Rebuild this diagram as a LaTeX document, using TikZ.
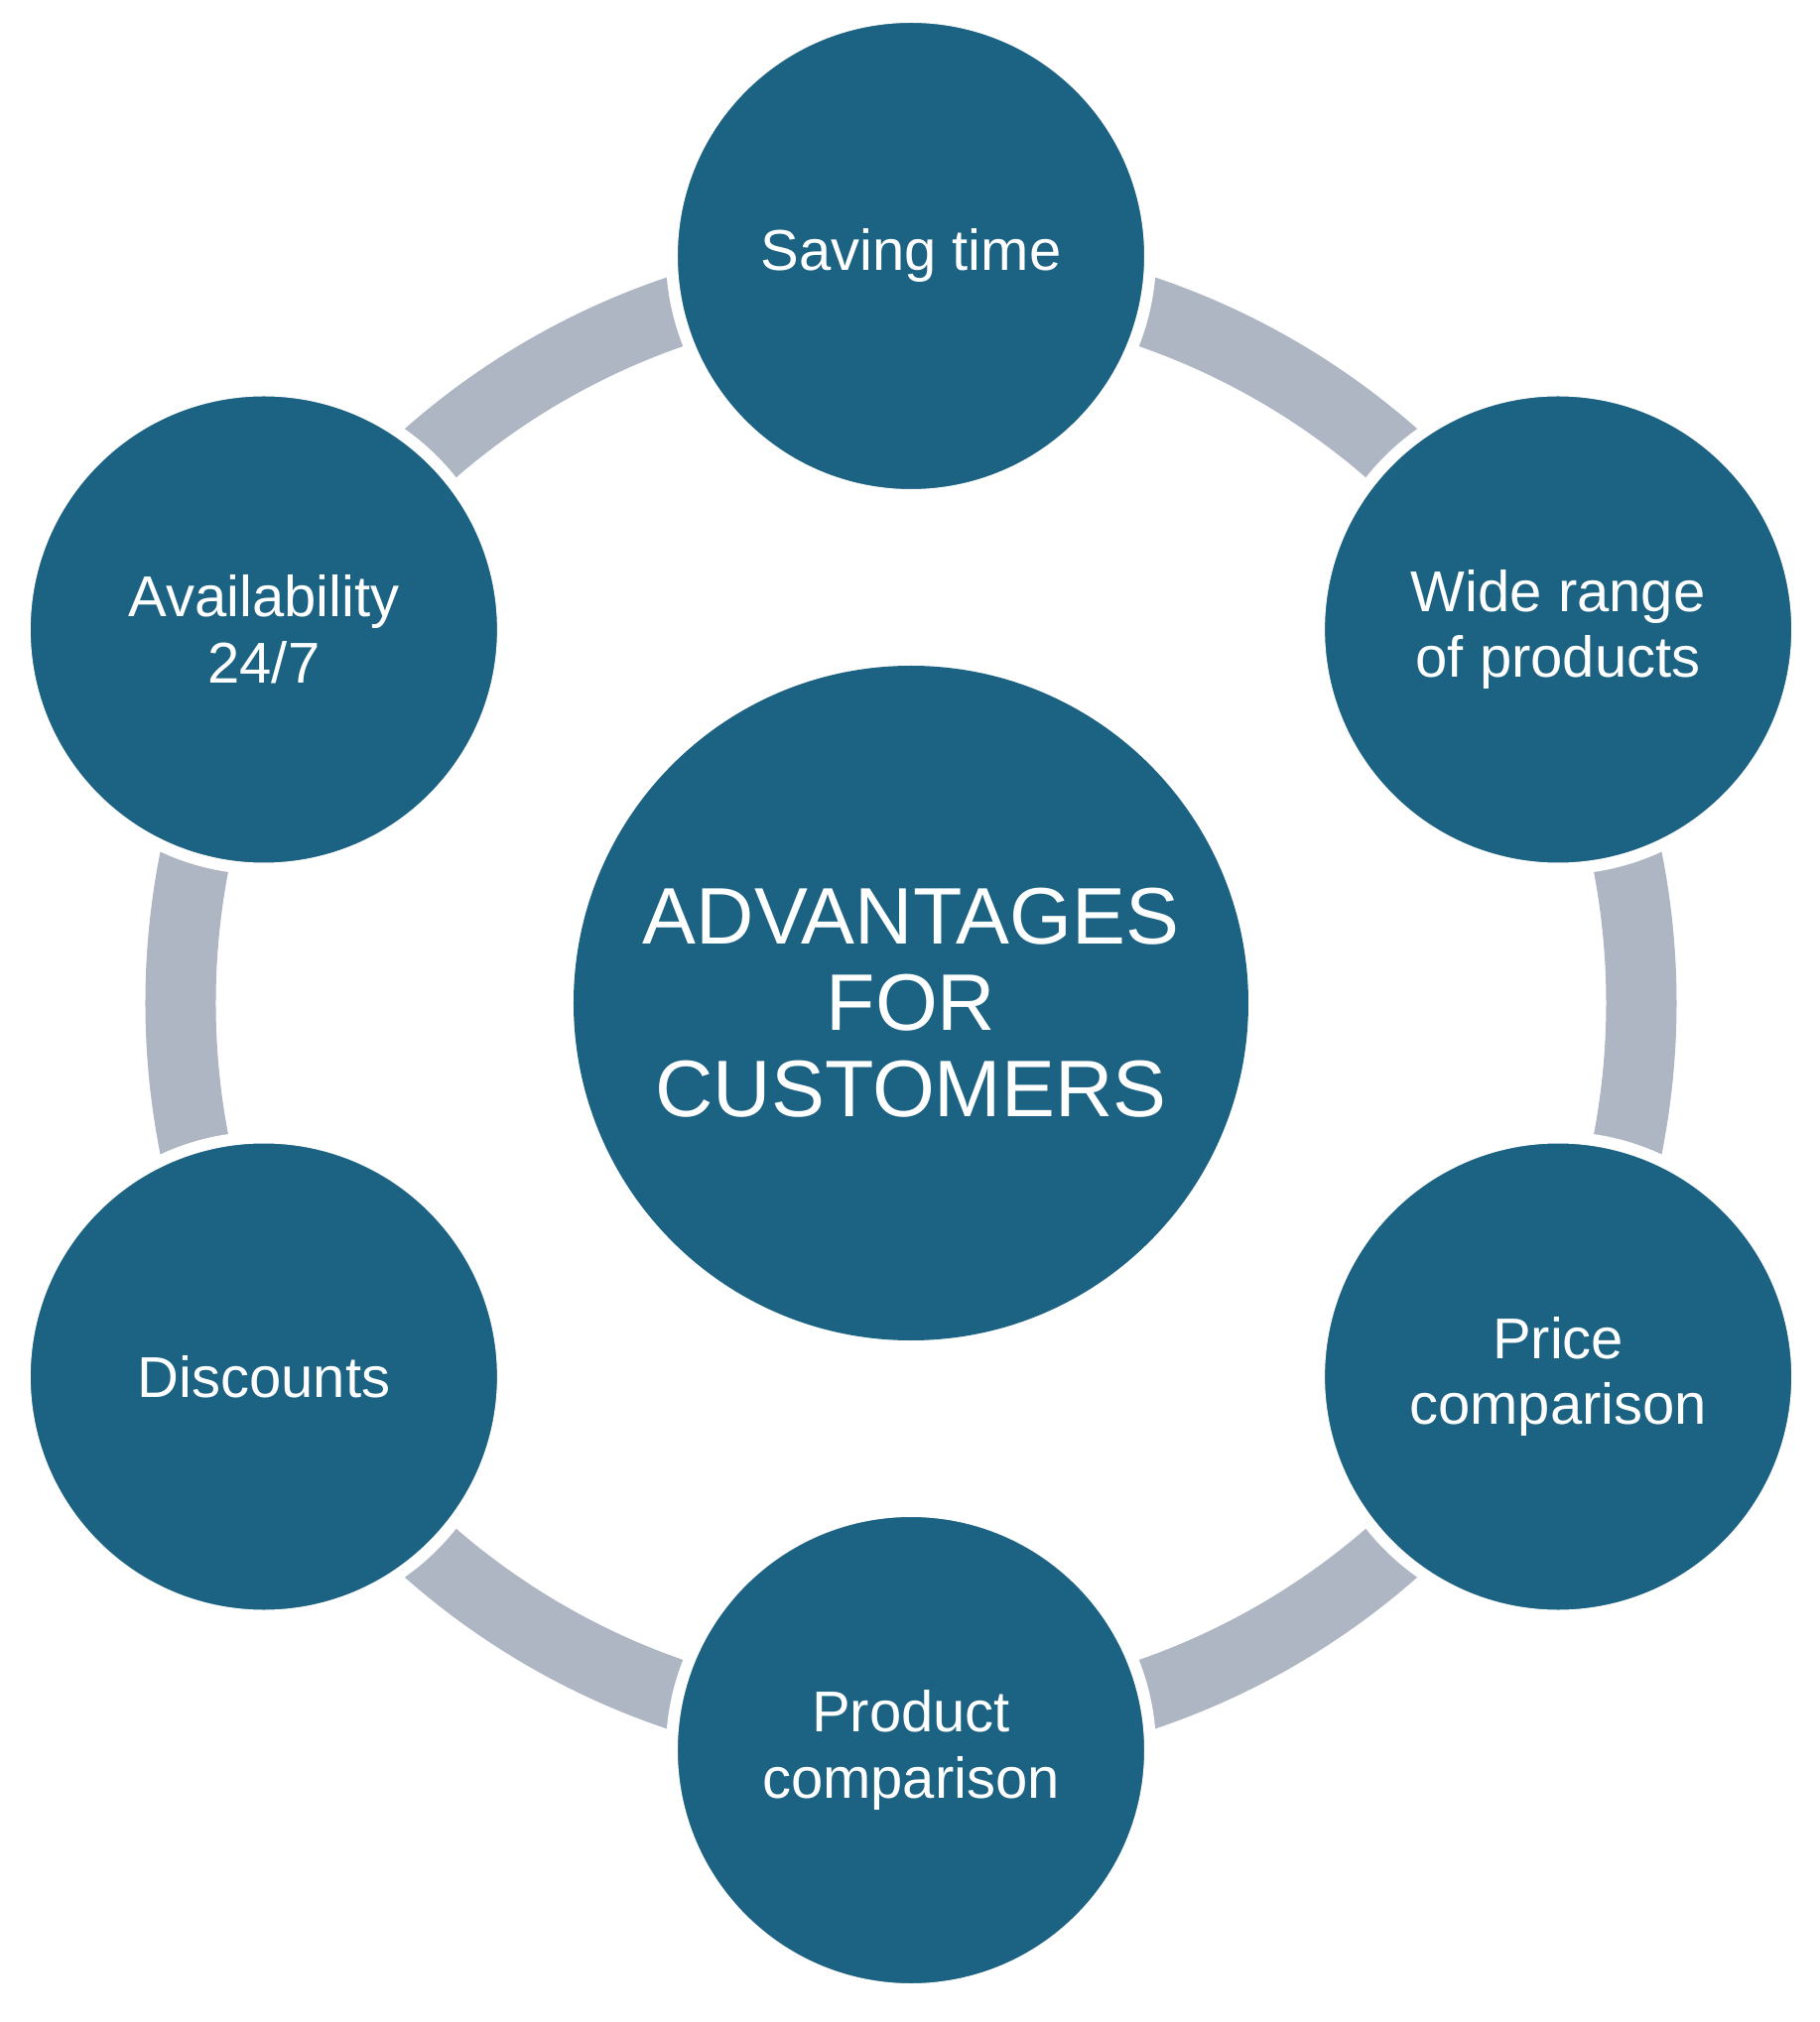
\documentclass[tikz,border=0pt]{standalone}
\usepackage{fontspec}
\setmainfont{Liberation Sans}
\usepackage{tikz}
\definecolor{petrol}{RGB}{27,98,131}
\definecolor{ringgray}{RGB}{173,182,194}
\tikzset{
  ring/.style={draw=ringgray, line width=0.71cm},
  hubnode/.style={circle, fill=petrol, minimum size=6.8cm, inner sep=0pt,
    text=white, align=center, font=\fontsize{23}{24.8}\selectfont},
  spoke/.style={circle, fill=petrol, draw=white, line width=0.12cm,
    minimum size=4.82cm, inner sep=0pt, text=white, align=center,
    font=\fontsize{16.5}{19}\selectfont}
}

\begin{document}
\begin{tikzpicture}
  \useasboundingbox (-9.18,-10.27) rectangle (9.15,10.11);
  \node[hubnode] (hub) at (0,0) {ADVANTAGES\\FOR\\CUSTOMERS};
  \draw[ring] (hub.center) circle[radius=7.36];
  \node[spoke] (saving) at (90:7.53) {Saving time};
  \node[spoke] (range) at (30:7.53) {Wide range\\of products};
  \node[spoke] (price) at (-30:7.53) {Price\\comparison};
  \node[spoke] (product) at (-90:7.53) {Product\\comparison};
  \node[spoke] (discounts) at (-150:7.53) {Discounts};
  \node[spoke] (avail) at (150:7.53) {Availability\\24/7};
\end{tikzpicture}
\end{document}
